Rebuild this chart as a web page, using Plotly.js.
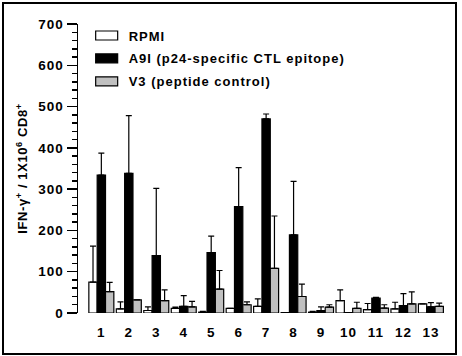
<!DOCTYPE html>
<html>
<head>
<meta charset="utf-8">
<script src="https://cdn.plot.ly/plotly-3.0.1.min.js"></script>
<style>
  html, body { margin: 0; padding: 0; background: #fff; }
  #wrap { position: relative; width: 462px; height: 356px; }
  #chart { width: 462px; height: 356px; }
  #frame { position: absolute; left: 2px; top: 2px; width: 451px; height: 349px;
           border: 2px solid #000; pointer-events: none; }
  #chart svg text { letter-spacing: 1px; font-weight: bold; }
  #chart .ytitle { letter-spacing: 0.6px; }
  #chart .legend .scrollbox { clip-path: none !important; }
</style>
</head>
<body>
<div id="wrap">
  <div id="chart"></div>
  <div id="frame"></div>
</div>
<script>
// Subjects 1-13
const subjects = [1, 2, 3, 4, 5, 6, 7, 8, 9, 10, 11, 12, 13];
const tickLabels = ['1','2','3','4','5','6','7','8','9','10','11','12','13'];
const yTicks = [0, 100, 200, 300, 400, 500, 600, 700];

// IFN-gamma+ cells per 1x10^6 CD8+ (mean) and upper SD for each stimulus
const rpmi    = [75, 10, 6, 11, 2, 11, 16, 1, 2, 30, 8, 10, 22];
const rpmiErr = [87, 17, 9, 3, 2, 0, 18, 0, 2, 26, 15, 16, 0];

const a9i     = [334, 338, 139, 16, 146, 258, 470, 189, 6, 1, 36, 18, 15];
const a9iErr  = [53, 140, 163, 26, 40, 94, 12, 130, 9, 0, 2, 29, 10];

const v3      = [52, 32, 30, 15, 58, 20, 108, 40, 14, 11, 12, 22, 16];
const v3Err   = [22, 0, 26, 13, 45, 7, 127, 30, 6, 15, 8, 29, 8];

const names = ['RPMI', 'A9I (p24-specific CTL epitope)', 'V3 (peptide control)'];
const fills = ['#ffffff', '#000000', '#c0c0c0'];

const FONT = 'Liberation Sans, Arial, Helvetica, sans-serif';

function barTrace(i, y, err) {
  return {
    type: 'bar',
    name: '<b>' + names[i] + '</b>',
    legendgroup: 'g' + i,
    x: subjects,
    y: y,
    marker: { color: fills[i], line: { color: '#000', width: 1.2 } },
    error_y: {
      type: 'data', symmetric: false, array: err,
      arrayminus: err.map(() => 0),
      color: '#000', thickness: 1.2, width: 3
    }
  };
}

const data = [
  barTrace(0, rpmi, rpmiErr),
  barTrace(1, a9i, a9iErr),
  barTrace(2, v3, v3Err)
];

const layout = {
  width: 462, height: 356,
  margin: { l: 78, r: 16, t: 24, b: 43 },
  paper_bgcolor: '#fff', plot_bgcolor: '#fff',
  barmode: 'group', bargap: 0.09, bargroupgap: 0,
  showlegend: true,
  legend: {
    x: 0.029, y: 1.012, xanchor: 'left', yanchor: 'top',
    bgcolor: 'rgba(0,0,0,0)', borderwidth: 0,
    traceorder: 'grouped', tracegroupgap: 3,
    font: { family: FONT, size: 13, color: '#000', weight: 'bold' }
  },
  xaxis: {
    range: [0.15, 13.55],
    tickmode: 'array', tickvals: subjects,
    ticktext: tickLabels.map(t => '<b>' + t + '</b>'),
    ticks: 'outside', ticklen: 7, tickcolor: 'rgba(0,0,0,0)',
    showline: false, showgrid: false, zeroline: false,
    tickfont: { family: FONT, size: 13.5, color: '#000', weight: 'bold' }
  },
  yaxis: {
    range: [0, 700],
    tickmode: 'array', tickvals: yTicks,
    ticktext: yTicks.map(v => '<b>' + v + '</b>'),
    ticks: 'outside', ticklen: 10, tickwidth: 1.5, tickcolor: '#000',
    minor: { dtick: 20, ticks: 'outside', ticklen: 5, tickwidth: 1.5, tickcolor: '#000' },
    showline: true, linecolor: '#000', linewidth: 1.5,
    showgrid: false, zeroline: false,
    tickfont: { family: FONT, size: 13.5, color: '#000', weight: 'bold' },
    title: {
      text: '<b>IFN-γ<sup>+</sup> / 1X10<sup>6</sup> CD8<sup>+</sup></b>',
      standoff: 10,
      font: { family: FONT, size: 13, color: '#000', weight: 'bold' }
    }
  }
};

Plotly.newPlot('chart', data, layout, { displayModeBar: false, staticPlot: true }).then(() => {
  // flat rectangular legend swatches, set just left of each label
  document.querySelectorAll('#chart .legend .legendpoints path').forEach(p => {
    p.setAttribute('d', 'M9,4.5H-13V-4.5H9Z');
  });
});
</script>
</body>
</html>
